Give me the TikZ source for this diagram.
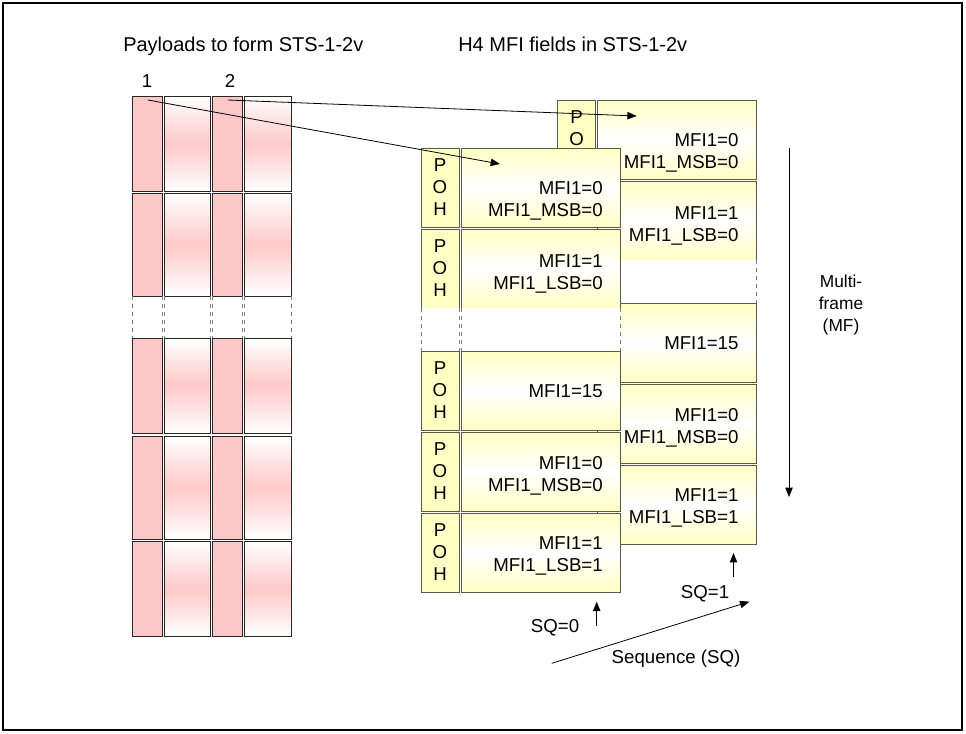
\documentclass[tikz,border=0pt]{standalone}
\usepackage{fontspec}
\setmainfont{Liberation Sans}
\usetikzlibrary{arrows.meta}

\definecolor{rose}{RGB}{255,200,200}
\definecolor{pohyellow}{RGB}{255,255,196}
\definecolor{boxline}{RGB}{90,90,75}

\begin{document}
\begin{tikzpicture}[
        x=0.75pt, y=0.75pt,
        % general styles
        every node/.style={font=\fontsize{14}{16.5}\selectfont},
        title text/.style={anchor=base west, inner sep=0pt, font=\fontsize{15}{18}\selectfont}, % headings
        solid cell/.style={draw=black!85, line width=0.7pt, fill=rose}, % payload POH column
        fade cell/.style={draw=black!85, line width=0.7pt, top color=white, bottom color=white, middle color=rose}, % payload data column
        gap line/.style={dashed, gray, line width=0.6pt}, % omitted rows
        poh cell/.style={draw=boxline, line width=0.6pt, fill=pohyellow},
        mfi cell/.style={draw=boxline, line width=0.6pt, top color=pohyellow, bottom color=pohyellow, middle color=white},
        poh text/.style={align=center, inner sep=0pt},
        mfi text/.style={align=right, anchor=east, inner sep=0pt},
        pointer/.style={-{Triangle[length=7pt, width=5.5pt]}, line width=0.6pt}
    ]
    \useasboundingbox (0,0) rectangle (966,-733);

    % --- frame and headings ---
    \draw[line width=1.6pt] (3,-3) rectangle (962,-730);
    \node[title text] (payload title) at (123,-51) {Payloads to form STS-1-2v};
    \node[title text] (mfi title) at (458,-51) {H4 MFI fields in STS-1-2v};

    % --- left: the two member payloads ---
    \begin{scope}
        % 1. columns, row by row
        \foreach \t/\b in {96/191, 193/296, 338/433, 436/539, 541/636} {
            \draw[solid cell] (132.7,-\t) rectangle (162.7,-\b);
            \draw[fade cell] (164.7,-\t) rectangle (210.7,-\b);
            \draw[solid cell] (212.7,-\t) rectangle (242.7,-\b);
            \draw[fade cell] (244.7,-\t) rectangle (291.3,-\b);
        }
        % 2. omitted rows
        \foreach \x in {132.7, 162.7, 164.7, 210.7, 212.7, 242.7, 244.7, 291.3}
            \draw[gap line] (\x,-296) -- (\x,-338);
        % 3. member numbers
        \node[anchor=base] (num1) at (147,-87) {1};
        \node[anchor=base] (num2) at (230,-87) {2};
        \coordinate (pay1) at (148,-100);
        \coordinate (pay2) at (228,-100);
    \end{scope}

    % --- member 2 (SQ=1), lies behind member 1 ---
    \begin{scope}[shift={(557.7,-100)}]
        % 1. POH (only its top shows) and MFI cells
        \draw[poh cell] (0,0) rectangle (38,-79);
        \node[poh text] (sq1 poh) at (19,-39.5) {P\\O\\H};
        \foreach \t/\b/\ty/\txt [count=\i] in {0/79/52.5/{MFI1=0\\MFI1\_MSB=0}, 81/160/126/{MFI1=1\\MFI1\_LSB=0},
                203/282/243.5/{MFI1=15}, 284/363/327.5/{MFI1=0\\MFI1\_MSB=0}, 365/444/408/{MFI1=1\\MFI1\_LSB=1}} {
            \draw[mfi cell] (40,-\t) rectangle (199,-\b);
            \node[mfi text] (sq1 mfi \i) at (181,-\ty) {\txt};
        }
        % 2. omitted frames
        \fill[white] (40,-160) rectangle (199,-203);
        \draw[gap line] (199,-160) -- (199,-203);
        \coordinate (sq1 entry) at (79,-16);
    \end{scope}

    % --- member 1 (SQ=0) ---
    \begin{scope}[shift={(421,-148)}]
        % 1. POH and MFI cells
        \foreach \t/\b/\ty/\txt [count=\i] in {0/79/53/{MFI1=0\\MFI1\_MSB=0}, 81/160/126/{MFI1=1\\MFI1\_LSB=0},
                203/282/243.5/{MFI1=15}, 284/363/327.5/{MFI1=0\\MFI1\_MSB=0}, 365/444/408/{MFI1=1\\MFI1\_LSB=1}} {
            \draw[poh cell] (0,-\t) rectangle (38,-\b);
            \draw[mfi cell] (40,-\t) rectangle (199,-\b);
            \node[poh text] (sq0 poh \i) at (19,{-(\t+\b)/2}) {P\\O\\H};
            \node[mfi text] (sq0 mfi \i) at (182,-\ty) {\txt};
        }
        % 2. omitted frames
        \fill[white] (0,-160) rectangle (199,-203);
        \foreach \x in {0, 38, 40, 199}
            \draw[gap line] (\x,-160) -- (\x,-203);
        \coordinate (sq0 entry) at (79,-16);
    \end{scope}

    % --- payload to member arrows ---
    \draw[pointer] (pay1) -- (sq0 entry);
    \draw[pointer] (pay2) -- (sq1 entry);

    % --- multiframe direction ---
    \coordinate (mf top) at (789,-148);
    \coordinate (mf bottom) at (789,-497);
    \draw[pointer] (mf top) -- (mf bottom);
    \node[align=center, font=\fontsize{13}{16.5}\selectfont] (mf label) at (841,-305) {Multi-\\frame\\(MF)};

    % --- sequence direction ---
    \coordinate (sq0 tail) at (596.7,-626);
    \coordinate (sq0 tip) at (596.7,-601.7);
    \draw[pointer] (sq0 tail) -- (sq0 tip);
    \node (sq0 label) at (555,-628) {SQ=0};

    \coordinate (sq1 tail) at (733.5,-577);
    \coordinate (sq1 tip) at (733.5,-553);
    \draw[pointer] (sq1 tail) -- (sq1 tip);
    \node (sq1 label) at (705,-594) {SQ=1};

    \coordinate (seq start) at (551.7,-663.3);
    \coordinate (seq end) at (749.3,-601.7);
    \draw[pointer] (seq start) -- (seq end);
    \node (seq label) at (676,-659) {Sequence (SQ)};

\end{tikzpicture}
\end{document}
